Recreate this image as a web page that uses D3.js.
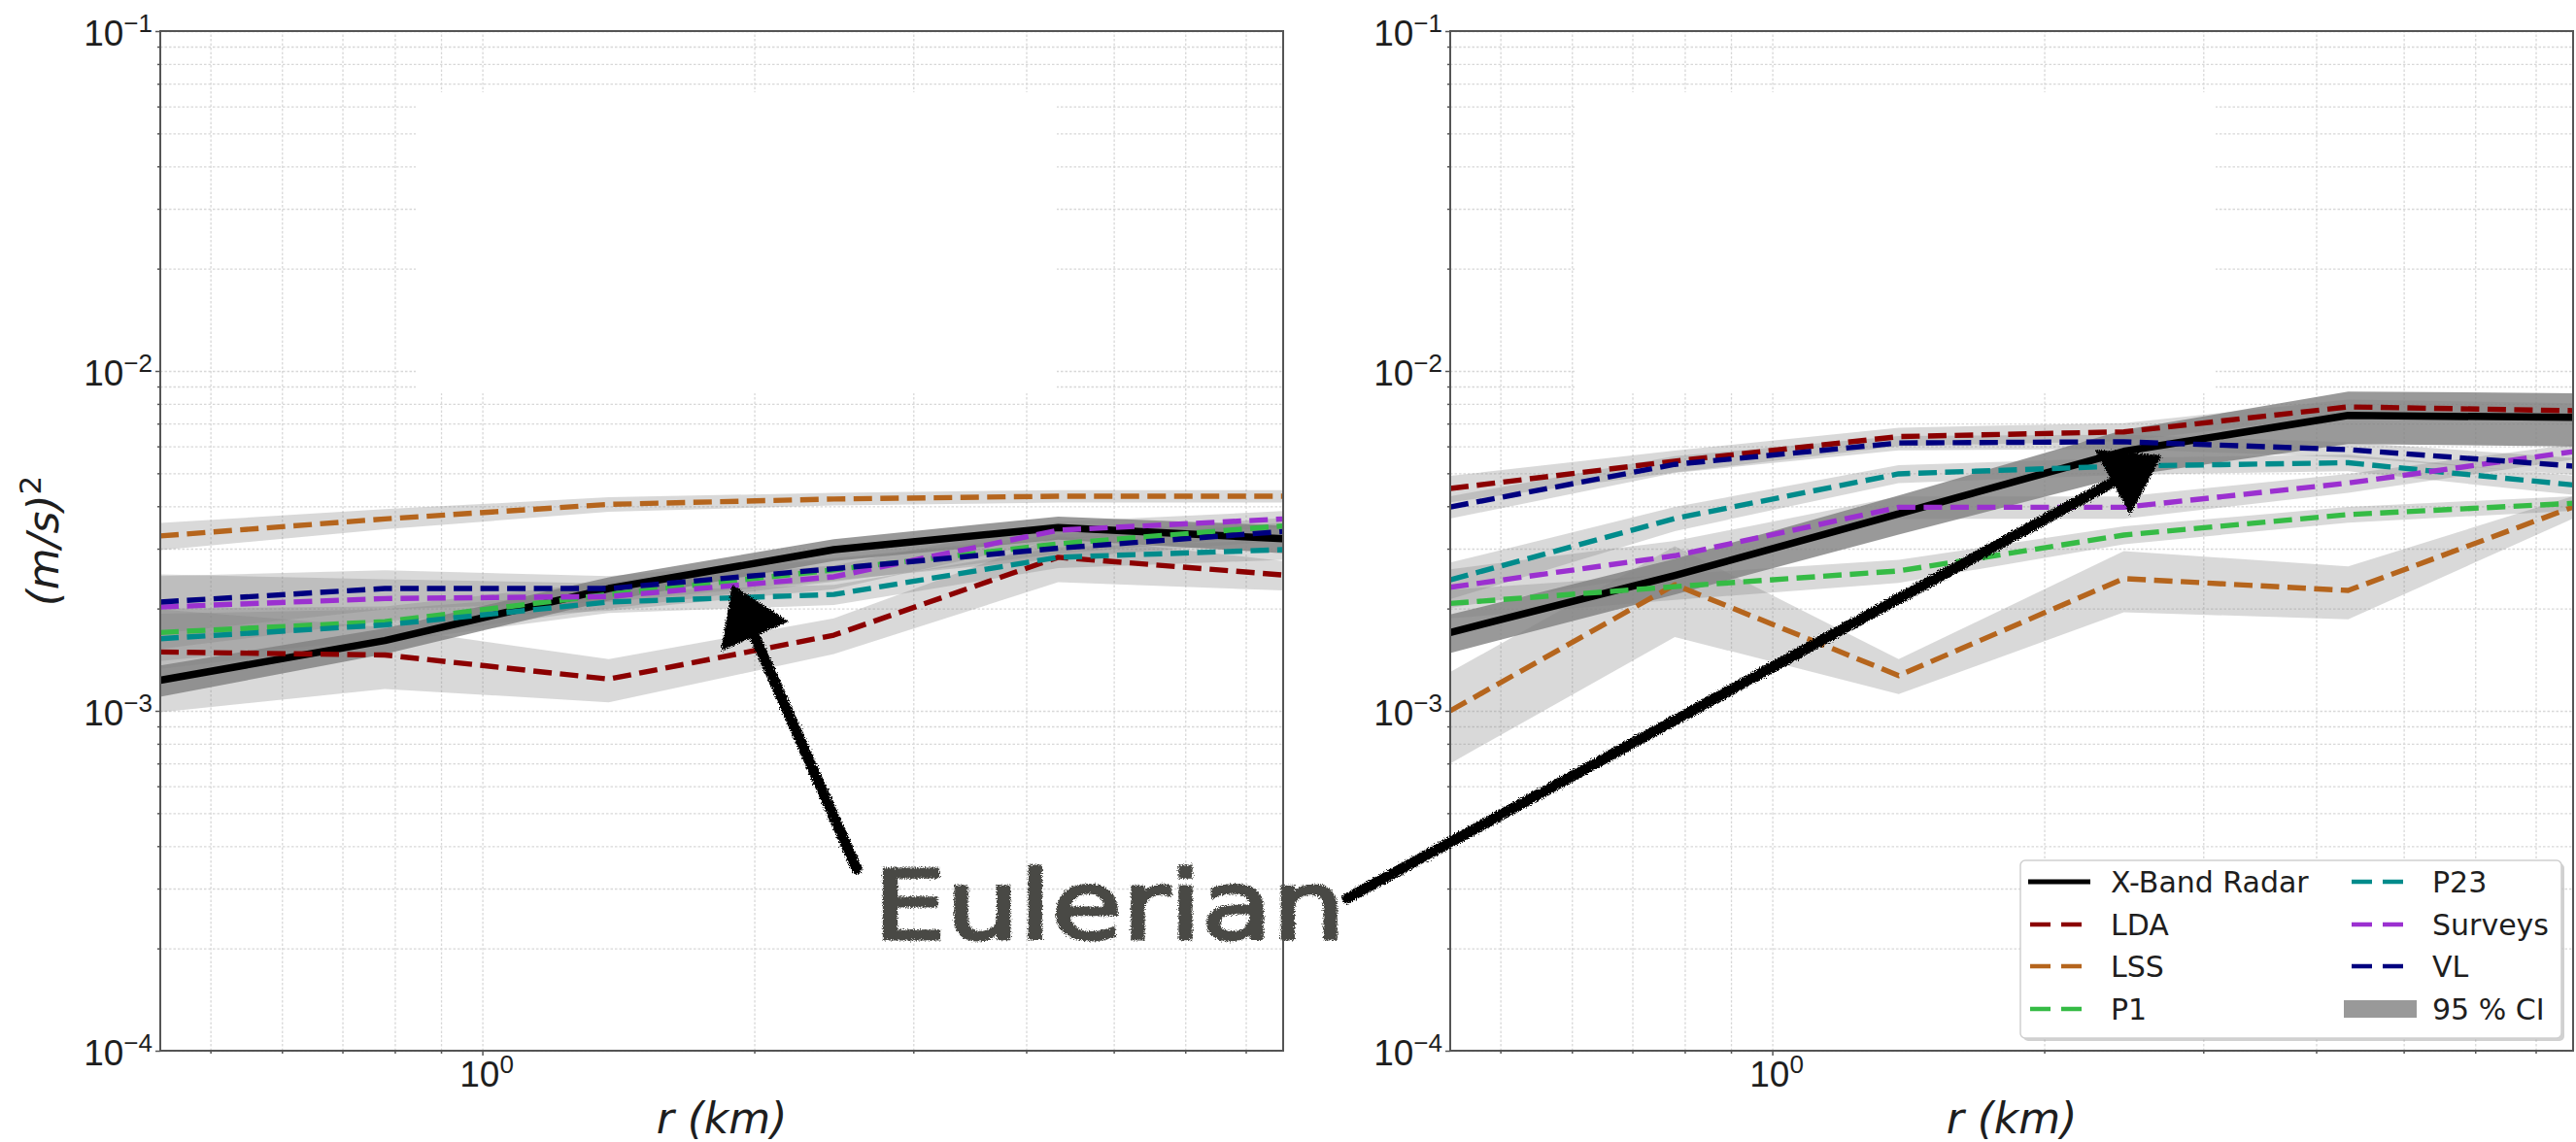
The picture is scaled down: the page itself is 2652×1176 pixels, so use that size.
<!DOCTYPE html>
<html>
<head>
<meta charset="utf-8">
<script src="https://cdn.jsdelivr.net/npm/d3@7"></script>
<style>
  html, body { margin: 0; padding: 0; background: #fff; }
  svg { display: block; font-family: 'DejaVu Sans', sans-serif; }
  .grid line { stroke: #d8d8d8; stroke-width: 1.3; stroke-dasharray: 2.5 2; }
  .grid path, .ticks path { display: none; }
  .ticks line { stroke: #555; stroke-width: 1.5; }
</style>
</head>
<body>
<svg id="chart" width="2652" height="1176"></svg>
<script>
// separation distance (km), same bins in both panels
const rKm = [0.44, 0.78, 1.38, 2.45, 4.34, 7.7];

const seriesNames = ['X-Band Radar', 'LDA', 'LSS', 'P1', 'P23', 'Surveys', 'VL'];
const seriesColors = ['#000000', '#8b0000', '#b5651d', '#35bb45', '#008b8b', '#9b30d0', '#00007f'];

// left panel: mean and 95% CI half width, (m/s)^2
const leftXband = [0.00123, 0.00161, 0.00229, 0.00298, 0.00346, 0.00321];
const leftXbandErr = [0.00013, 0.00014, 0.00018, 0.00022, 0.00027, 0.0003];
const leftLDA = [0.00149, 0.00146, 0.00124, 0.00167, 0.00283, 0.00251];
const leftLDAErr = [0.0005, 0.0003, 0.00018, 0.0002, 0.00044, 0.00025];
const leftLSS = [0.00327, 0.00367, 0.00405, 0.0042, 0.00428, 0.00428];
const leftLSSErr = [0.0003, 0.00025, 0.0002, 0.00018, 0.00018, 0.00018];
const leftP1 = [0.0017, 0.00183, 0.0022, 0.0026, 0.0031, 0.0035];
const leftP1Err = [0.0003, 0.0002, 0.0002, 0.0002, 0.0002, 0.0002];
const leftP23 = [0.00163, 0.00179, 0.00209, 0.0022, 0.00283, 0.00298];
const leftP23Err = [0.0003, 0.0002, 0.00015, 0.00015, 0.0002, 0.0002];
const leftSurveys = [0.00202, 0.00214, 0.00217, 0.00248, 0.0034, 0.00367];
const leftSurveysErr = [0.0005, 0.0003, 0.0002, 0.0002, 0.0002, 0.0002];
const leftVL = [0.00209, 0.00229, 0.00229, 0.00262, 0.00301, 0.00337];
const leftVLErr = [0.0004, 0.0003, 0.0002, 0.0002, 0.0002, 0.0002];

// right panel
const rightXband = [0.0017, 0.0025, 0.0038, 0.0058, 0.0074, 0.0073];
const rightXbandErr = [0.00022, 0.0003, 0.0005, 0.0009, 0.0013, 0.0013];
const rightLDA = [0.00451, 0.00543, 0.00641, 0.00662, 0.00784, 0.00764];
const rightLDAErr = [0.0004, 0.0004, 0.0004, 0.0004, 0.0004, 0.0004];
const rightLSS = [0.001, 0.00235, 0.00127, 0.00245, 0.00226, 0.00398];
const rightLSSErr = [0.0003, 0.0007, 0.00015, 0.0005, 0.0004, 0.0003];
const rightP1 = [0.00207, 0.00232, 0.00258, 0.00329, 0.00378, 0.00408];
const rightP1Err = [0.0002, 0.0002, 0.0002, 0.0002, 0.0002, 0.0002];
const rightP23 = [0.00243, 0.00368, 0.00498, 0.00525, 0.00537, 0.00462];
const rightP23Err = [0.0003, 0.0003, 0.0003, 0.0003, 0.0003, 0.0003];
const rightSurveys = [0.00231, 0.00286, 0.00397, 0.00397, 0.00468, 0.00579];
const rightSurveysErr = [0.0003, 0.0003, 0.0003, 0.0003, 0.0003, 0.0003];
const rightVL = [0.00398, 0.00531, 0.00614, 0.00619, 0.00587, 0.00525];
const rightVLErr = [0.0003, 0.0003, 0.0003, 0.0003, 0.0003, 0.0003];

const yMajors = [1e-4, 1e-3, 1e-2, 1e-1];
const xMajors = [1];

// annotation arrow tips, in data units
const arrowTips = [{ panel: 0, r: 1.89, v: 0.00235 }, { panel: 1, r: 2.7, v: 0.00564 }];

const plotTop = 32;
const W = 1156;
const H = 1050;
const panelLeft = [165, 1493];

const x = d3.scaleLog().domain([rKm[0], rKm[rKm.length - 1]]).range([0, W]);
const y = d3.scaleLog().domain([1e-4, 1e-1]).range([H, 0]);

const svg = d3.select('#chart');

const defs = svg.append('defs');
const rough = defs.append('filter').attr('id', 'rough')
  .attr('x', '-5%').attr('y', '-5%').attr('width', '110%').attr('height', '110%');
rough.append('feTurbulence').attr('type', 'fractalNoise').attr('baseFrequency', 0.8)
  .attr('numOctaves', 2).attr('result', 'noise');
rough.append('feDisplacementMap').attr('in', 'SourceGraphic').attr('in2', 'noise')
  .attr('scale', 6).attr('xChannelSelector', 'R').attr('yChannelSelector', 'G');

function powLabel(g, px, py, exp, anchor) {
  const t = g.append('text')
    .attr('x', px).attr('y', py)
    .attr('text-anchor', anchor)
    .attr('fill', '#1e1e1e')
    .style('font-size', '37px');
  t.append('tspan').text('10');
  t.append('tspan').attr('dy', -14).style('font-size', '26px')
    .text(exp < 0 ? '\u2212' + (-exp) : String(exp));
}

function drawPanel(idx, means, errs, eraseX) {
  const g = svg.append('g').attr('transform', `translate(${panelLeft[idx]},${plotTop})`);

  g.append('g').attr('class', 'grid')
    .call(d3.axisLeft(y).tickSize(-W).tickFormat(''));
  g.append('g').attr('class', 'grid')
    .attr('transform', `translate(0,${H})`)
    .call(d3.axisBottom(x).tickSize(-H).tickFormat(''));

  // blank patch in the upper part of the grid
  g.append('rect')
    .attr('x', eraseX).attr('y', 63)
    .attr('width', 660).attr('height', 310)
    .attr('fill', '#fff');

  const area = (m, e) => d3.area()
    .x((d, i) => x(rKm[i]))
    .y0((d, i) => y(m[i] - e[i]))
    .y1((d, i) => y(m[i] + e[i]))(m);

  const line = d3.line()
    .x((d, i) => x(rKm[i]))
    .y((d) => y(d));

  g.append('g').selectAll('path')
    .data(means)
    .join('path')
    .attr('d', (m, i) => area(m, errs[i]))
    .attr('fill', 'grey')
    .attr('fill-opacity', (m, i) => (i === 0 ? 0.8 : 0.3));

  g.append('g').selectAll('path')
    .data(means)
    .join('path')
    .attr('d', (m) => line(m))
    .attr('fill', 'none')
    .attr('stroke', (m, i) => seriesColors[i])
    .attr('stroke-width', (m, i) => (i === 0 ? 7.5 : 5.4))
    .attr('stroke-dasharray', (m, i) => (i === 0 ? null : '19 8.5'))
    .attr('stroke-linejoin', 'round');

  // spines
  g.append('rect')
    .attr('width', W).attr('height', H)
    .attr('fill', 'none').attr('stroke', '#555').attr('stroke-width', 2);

  const yMinor = y.ticks().filter((v) => !yMajors.includes(v));
  const xMinor = x.ticks().filter((v) => !xMajors.includes(v));

  g.append('g').attr('class', 'ticks')
    .call(d3.axisLeft(y).tickValues(yMinor).tickSize(3).tickFormat(''));
  g.append('g').attr('class', 'ticks')
    .attr('transform', `translate(0,${H})`)
    .call(d3.axisBottom(x).tickValues(xMinor).tickSize(3).tickFormat(''));

  const yAx = g.append('g').attr('class', 'ticks')
    .call(d3.axisLeft(y).tickValues(yMajors).tickSize(5).tickFormat(''));
  yAx.selectAll('.tick').each(function (d) {
    powLabel(d3.select(this), -8, 14, Math.round(Math.log10(d)), 'end');
  });

  const xAx = g.append('g').attr('class', 'ticks')
    .attr('transform', `translate(0,${H})`)
    .call(d3.axisBottom(x).tickValues(xMajors).tickSize(5).tickFormat(''));
  xAx.selectAll('.tick').each(function (d) {
    powLabel(d3.select(this), 4, 37, Math.round(Math.log10(d)), 'middle');
  });

  g.append('text')
    .attr('x', W / 2).attr('y', H + 85)
    .attr('text-anchor', 'middle')
    .attr('fill', '#1e1e1e')
    .style('font-size', '44px')
    .style('font-style', 'italic')
    .text('r (km)');

  return g;
}

const left = drawPanel(0,
  [leftXband, leftLDA, leftLSS, leftP1, leftP23, leftSurveys, leftVL],
  [leftXbandErr, leftLDAErr, leftLSSErr, leftP1Err, leftP23Err, leftSurveysErr, leftVLErr],
  263);

const right = drawPanel(1,
  [rightXband, rightLDA, rightLSS, rightP1, rightP23, rightSurveys, rightVL],
  [rightXbandErr, rightLDAErr, rightLSSErr, rightP1Err, rightP23Err, rightSurveysErr, rightVLErr],
  128);

// y label
const yl = left.append('text')
  .attr('transform', `translate(-105,${H / 2}) rotate(-90)`)
  .attr('text-anchor', 'middle')
  .attr('fill', '#1e1e1e')
  .style('font-size', '44px')
  .style('font-style', 'italic');
yl.append('tspan').text('(m/s)');
yl.append('tspan').attr('dy', -18).style('font-size', '31px').style('font-style', 'normal').text('2');

// legend
const leg = right.append('g').attr('transform', 'translate(587,854)');
leg.append('rect').attr('x', 3).attr('y', 3).attr('width', 557).attr('height', 183)
  .attr('rx', 5).attr('fill', '#999').attr('opacity', 0.45);
leg.append('rect').attr('width', 557).attr('height', 183).attr('rx', 5)
  .attr('fill', '#fff').attr('stroke', '#cfcfcf').attr('stroke-width', 1.5);

const legItems = seriesNames.map((n, i) => ({ name: n, color: seriesColors[i], kind: i === 0 ? 'solid' : 'dash' }));
legItems.push({ name: '95 % CI', color: '#999', kind: 'patch' });

const rowY = [22, 66, 109, 153];
const item = leg.selectAll('g.item')
  .data(legItems)
  .join('g')
  .attr('class', 'item')
  .attr('transform', (d, i) => `translate(${i < 4 ? 10 : 341},${rowY[i % 4]})`);

item.filter((d) => d.kind !== 'patch').append('line')
  .attr('x1', (d) => (d.kind === 'solid' ? -2 : 0)).attr('x2', (d) => (d.kind === 'solid' ? 62 : 53))
  .attr('stroke', (d) => d.color)
  .attr('stroke-width', (d) => (d.kind === 'solid' ? 5 : 4.5))
  .attr('stroke-dasharray', (d) => (d.kind === 'dash' ? '21 11' : null));

item.filter((d) => d.kind === 'patch').append('rect')
  .attr('x', -8).attr('y', -9).attr('width', 75).attr('height', 18)
  .attr('fill', (d) => d.color);

item.append('text')
  .attr('x', 83).attr('y', 11)
  .attr('fill', '#1e1e1e')
  .style('font-size', '30px')
  .text((d) => d.name);

// handwritten style annotation
const ann = svg.append('g').attr('filter', 'url(#rough)');
ann.append('text')
  .attr('x', 899).attr('y', 967)
  .attr('textLength', 486).attr('lengthAdjust', 'spacingAndGlyphs')
  .attr('fill', '#4a4a45')
  .attr('stroke', '#4a4a45').attr('stroke-width', 3)
  .style('font-size', '98px')
  .text('Eulerian');

const tails = [[882, 895], [1387, 925]];
arrowTips.forEach((a, i) => {
  const tip = [panelLeft[a.panel] + x(a.r), plotTop + y(a.v)];
  const tail = tails[i];
  const dx = tip[0] - tail[0];
  const dy = tip[1] - tail[1];
  const L = Math.hypot(dx, dy);
  const ux = dx / L;
  const uy = dy / L;
  const hl = 58;
  const hw = 38;
  const bx = tip[0] - ux * hl;
  const by = tip[1] - uy * hl;
  ann.append('line')
    .attr('x1', tail[0]).attr('y1', tail[1])
    .attr('x2', bx).attr('y2', by)
    .attr('stroke', '#000').attr('stroke-width', 11).attr('stroke-linecap', 'round');
  ann.append('path')
    .attr('d', `M${tip[0]},${tip[1]}L${bx - uy * hw},${by + ux * hw}L${bx + uy * hw},${by - ux * hw}Z`)
    .attr('fill', '#000');
});
</script>
</body>
</html>
